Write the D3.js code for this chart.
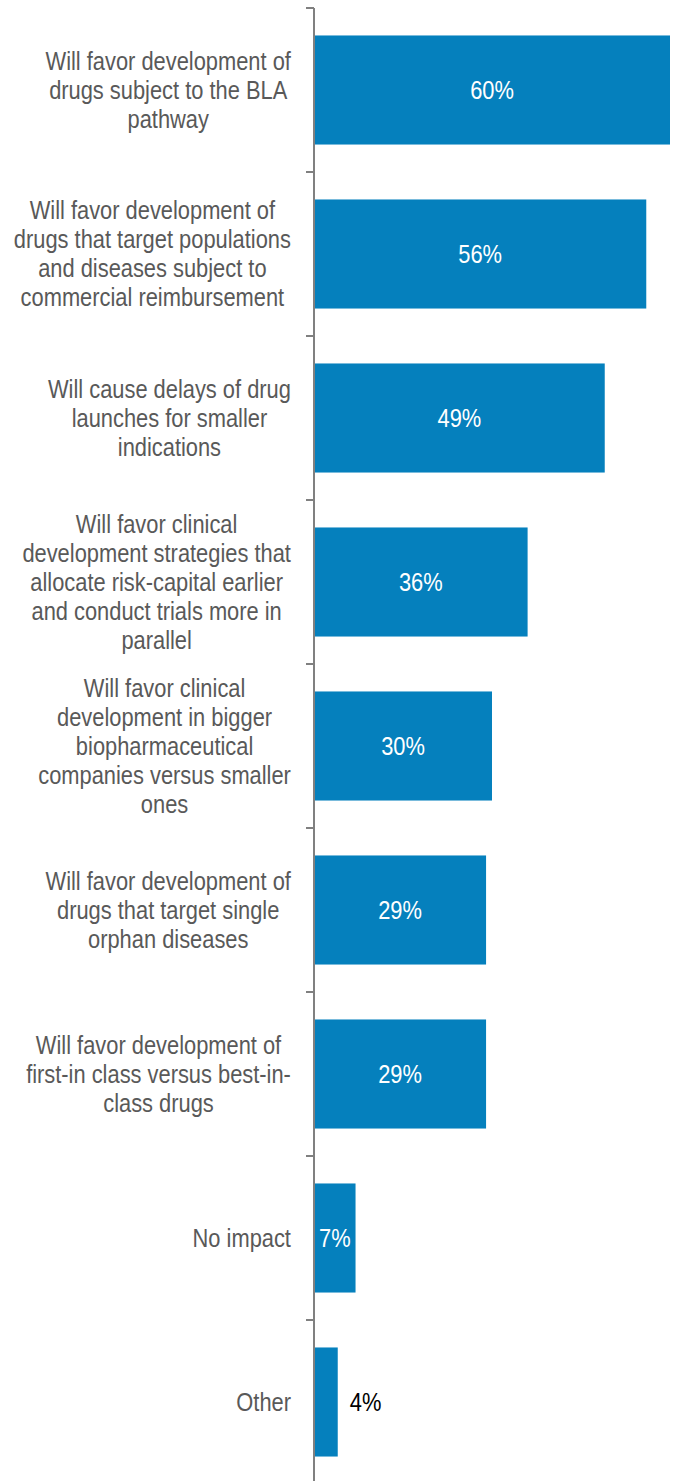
<!DOCTYPE html>
<html>
<head>
<meta charset="utf-8">
<script src="https://cdn.jsdelivr.net/npm/d3@7"></script>
<style>
  html, body { margin: 0; padding: 0; background: #ffffff; }
  svg { display: block; }
  text { font-family: "Liberation Sans", Arial, sans-serif; }
</style>
</head>
<body>
<svg id="chart" width="676" height="1481"></svg>
<script>
// Survey response categories (each entry lists the wrapped lines of its label)
const categories = [
  ["Will favor development of", "drugs subject to the BLA", "pathway"],
  ["Will favor development of", "drugs that target populations", "and diseases subject to", "commercial reimbursement"],
  ["Will cause delays of drug", "launches for smaller", "indications"],
  ["Will favor clinical", "development strategies that", "allocate risk-capital earlier", "and conduct trials more in", "parallel"],
  ["Will favor clinical", "development in bigger", "biopharmaceutical", "companies versus smaller", "ones"],
  ["Will favor development of", "drugs that target single", "orphan diseases"],
  ["Will favor development of", "first-in class versus best-in-", "class drugs"],
  ["No impact"],
  ["Other"]
];
// Share of respondents, percent
const values = [60, 56, 49, 36, 30, 29, 29, 7, 4];
const valueLabels = ["60%", "56%", "49%", "36%", "30%", "29%", "29%", "7%", "4%"];

const svg = d3.select("#chart");
const axisX = 314;
const plotTop = 8;
const bandStep = 164;
const fontSize = 25;
const narrow = 0.875;   // horizontal squeeze for a condensed look

const y = d3.scaleBand()
  .domain(d3.range(values.length))
  .range([plotTop, plotTop + bandStep * values.length])
  .paddingInner(0.335)
  .paddingOuter(0.1675);

const x = d3.scaleLinear().domain([0, 60]).range([axisX, 670]);

// Bars
svg.append("g").selectAll("rect")
  .data(values)
  .join("rect")
  .attr("x", x(0))
  .attr("y", (d, i) => y(i))
  .attr("width", d => x(d) - x(0))
  .attr("height", y.bandwidth())
  .attr("fill", "#0580bd");

// Category axis: vertical line with ticks at band boundaries
const axisG = svg.append("g");
axisG.append("line")
  .attr("x1", axisX).attr("x2", axisX)
  .attr("y1", plotTop).attr("y2", plotTop + bandStep * values.length)
  .attr("stroke", "#808080").attr("stroke-width", 2);
axisG.selectAll("line.tick")
  .data(d3.range(values.length + 1))
  .join("line")
  .attr("class", "tick")
  .attr("x1", axisX - 8).attr("x2", axisX)
  .attr("y1", i => plotTop + i * bandStep).attr("y2", i => plotTop + i * bandStep)
  .attr("stroke", "#808080").attr("stroke-width", 2);

// Category labels: block right-aligned to the axis, lines centred inside the block
const labelRight = 291;
const lineH = 29;
const labelG = svg.append("g");
categories.forEach((lines, i) => {
  const cy = y(i) + y.bandwidth() / 2;
  const t = labelG.append("text")
    .attr("font-size", fontSize)
    .attr("fill", "#595959")
    .attr("text-anchor", "middle");
  const spans = lines.map((ln, k) => t.append("tspan")
    .attr("x", 0)
    .attr("y", (k - (lines.length - 1) / 2) * lineH)
    .attr("dy", "0.35em")
    .text(ln));
  const maxW = d3.max(spans, s => s.node().getComputedTextLength()) * narrow;
  t.attr("transform", `translate(${labelRight - maxW / 2},${cy}) scale(${narrow},1)`);
});

// Value labels: inside the bar in white, or just past the end when the bar is too short
svg.append("g").selectAll("text")
  .data(values)
  .join("text")
  .attr("font-size", fontSize)
  .attr("dy", "0.35em")
  .each(function (d, i) {
    const el = d3.select(this).text(valueLabels[i]);
    const w = this.getComputedTextLength() * narrow;
    const barW = x(d) - x(0);
    const cy = y(i) + y.bandwidth() / 2;
    if (w + 4 <= barW) {
      el.attr("text-anchor", "middle").attr("fill", "#ffffff")
        .attr("transform", `translate(${x(0) + barW / 2},${cy}) scale(${narrow},1)`);
    } else {
      el.attr("text-anchor", "start").attr("fill", "#000000")
        .attr("transform", `translate(${x(d) + 12},${cy}) scale(${narrow},1)`);
    }
  });
</script>
</body>
</html>
